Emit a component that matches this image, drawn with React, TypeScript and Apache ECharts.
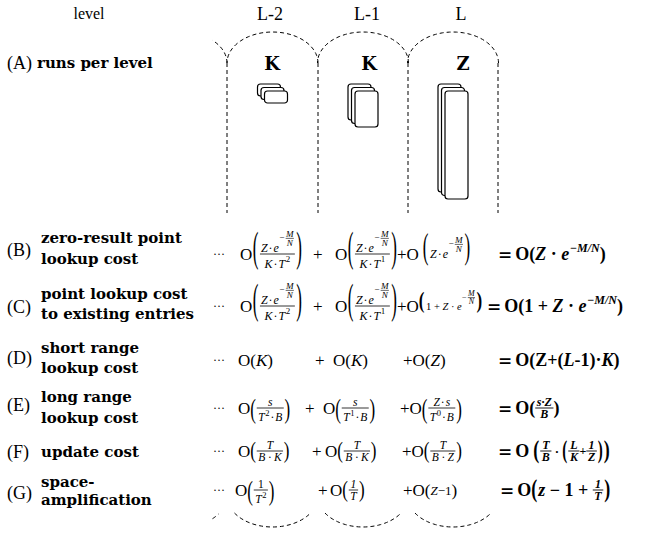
import React, { useEffect, useRef } from 'react';
import * as echarts from 'echarts';

// ---------------- data ----------------
const levelHeader = 'level';
const levelNames = ['L-2', 'L-1', 'L'];
const runsPerLevel = ['K', 'K', 'Z'];
const runsDrawn = [3, 3, 3];
const runLengthRatio = [1, 3, 9];
const levelExponents = ['2', '1', '0'];
const rowTags = ['(A)', '(B)', '(C)', '(D)', '(E)', '(F)', '(G)'];
const rowTitles = [
  ['runs per level'],
  ['zero-result point', 'lookup cost'],
  ['point lookup cost', 'to existing entries'],
  ['short range', 'lookup cost'],
  ['long range', 'lookup cost'],
  ['update cost'],
  ['space-', 'amplification'],
];

// ---------------- layout ----------------
const W = 647;
const H = 534;
const COLS = [227, 318, 408, 498];
const ARC_BASE_Y = 63;
const ARC_RY = 31;
const LINE_END_Y = 213;
const BOT_CY = 496;
const HEAD_X = [270, 367, 461];
const TAG_Y = [63, 250, 307, 358, 405, 452, 493];
const TITLE_Y = [[63], [238, 259], [294, 314], [348, 368], [397, 418], [452], [482, 500]];
const ROW_Y = [254, 306, 360, 408, 451, 490];
const X_DOTS = 213;
const X_T1 = [240, 240, 238, 238, 238, 235];
const X_PLUS = [313, 313, 315, 305, 312, 318];
const X_T2 = [335, 335, 333, 323, 325, 330];
const X_T3 = [397, 397, 403, 400, 402, 403];
const X_EQ = [498, 487, 498, 498, 498, 500];

// ---------------- tiny math layout ----------------
type Box = { w: number; a: number; d: number; draw: (x: number, y: number, out: any[]) => void };
type TO = { b?: boolean; i?: boolean; f?: string };
const SERIF = '"Liberation Serif", "DejaVu Serif", serif';
const DJ = '"DejaVu Serif", "Liberation Serif", serif';
const HALF = 0.42;
let mctx: CanvasRenderingContext2D | null = null;
function mw(s: string, size: number, o: TO) {
  if (!mctx) mctx = document.createElement('canvas').getContext('2d');
  mctx!.font = `${o.i ? 'italic ' : ''}${o.b ? 'bold ' : ''}${size}px ${o.f || SERIF}`;
  return mctx!.measureText(s).width;
}
function textEl(s: string, x: number, y: number, size: number, o: TO, align = 'left', scaleY = 1, lineHeight = 0) {
  const el: any = {
    type: 'text', x, y, silent: true,
    style: {
      text: s, fontSize: size, fontFamily: o.f || SERIF,
      fontWeight: o.b ? 'bold' : 'normal', fontStyle: o.i ? 'italic' : 'normal',
      fill: '#000', textAlign: align, textVerticalAlign: 'middle',
    },
  };
  if (lineHeight) el.style.lineHeight = lineHeight;
  if (scaleY !== 1) el.scaleY = scaleY;
  return el;
}
function T(s: string, size: number, o: TO = {}): Box {
  const w = mw(s, size, o);
  return { w, a: size * HALF, d: size * HALF, draw: (x, y, out) => { out.push(textEl(s, x, y, size, o)); } };
}
const RB: TO = { b: true };
const I: TO = { i: true };
const BI: TO = { b: true, i: true };
function Sp(w: number): Box { return { w, a: 0, d: 0, draw: () => {} }; }
function Row(...bs: Box[]): Box {
  return {
    w: bs.reduce((s, b) => s + b.w, 0),
    a: Math.max(...bs.map((b) => b.a)),
    d: Math.max(...bs.map((b) => b.d)),
    draw: (x, y, out) => { let cx = x; for (const b of bs) { b.draw(cx, y, out); cx += b.w; } },
  };
}
function Sup(base: Box, s: Box, raise: number, gap = 0.5): Box {
  return {
    w: base.w + gap + s.w,
    a: Math.max(base.a, raise + s.a),
    d: Math.max(base.d, s.d - raise),
    draw: (x, y, out) => { base.draw(x, y, out); s.draw(x + base.w + gap, y - raise, out); },
  };
}
function Frac(num: Box, den: Box, gap = 1.2, lw = 0.8, pad = 1): Box {
  const w = Math.max(num.w, den.w) + 2 * pad;
  return {
    w, a: gap + num.a + num.d, d: gap + den.a + den.d,
    draw: (x, y, out) => {
      out.push({ type: 'line', silent: true, shape: { x1: x, y1: y, x2: x + w, y2: y }, style: { stroke: '#000', lineWidth: lw } });
      num.draw(x + (w - num.w) / 2, y - gap - num.d, out);
      den.draw(x + (w - den.w) / 2, y + gap + den.a, out);
    },
  };
}
// simple stacked fraction drawn as one two-line text
function FracS(num: string, den: string, size: number, o: TO, gap = 1, lw = 0.8, pad = 1): Box {
  const w = Math.max(mw(num, size, o), mw(den, size, o)) + 2 * pad;
  const half = size * HALF;
  const lh = 2 * gap + 2 * half;
  return {
    w, a: gap + 2 * half, d: gap + 2 * half,
    draw: (x, y, out) => {
      out.push({ type: 'line', silent: true, shape: { x1: x, y1: y, x2: x + w, y2: y }, style: { stroke: '#000', lineWidth: lw } });
      out.push(textEl(`${num}\n${den}`, x + w / 2, y, size, o, 'center', 1, lh));
    },
  };
}
function Par(inner: Box, size: number, o: TO & { minH?: number; pad?: number } = {}): Box {
  const lw = mw('(', size, o);
  const rw = mw(')', size, o);
  const nat = size * 0.9;
  const h = Math.max(inner.a + inner.d, o.minH || 0);
  const k = Math.max(1, h / nat);
  const pad = o.pad ?? 0.8;
  const c = (inner.d - inner.a) / 2;
  const half = (nat * k) / 2;
  return {
    w: lw + rw + inner.w + 2 * pad,
    a: Math.max(inner.a, half - c),
    d: Math.max(inner.d, half + c),
    draw: (x, y, out) => {
      const yy = k > 1 ? y + c - 0.1 * size * (k - 1) : y;
      out.push(textEl('(', x, yy, size, o, 'left', k));
      inner.draw(x + lw + pad, y, out);
      out.push(textEl(')', x + lw + 2 * pad + inner.w, yy, size, o, 'left', k));
    },
  };
}

// ---------------- formula pieces ----------------
const MS = 17; // main size
const RS = 18; // result size
const FS = 12; // fraction size
const O = () => T('O', MS);
const PO = () => T('+O', MS);
function eNeg(sz: number): Box {
  const s2 = sz * 0.76;
  return Sup(T('e', sz, I), Row(T('−', s2), Sp(1.2), FracS('M', 'N', s2, I, 0.6, 0.6, 0.3)), sz * 0.8, 0.4);
}
const zE = (sz: number) => Row(T('Z', sz, I), Sp(1), T('·', sz), Sp(1), eNeg(sz));
function bcTerm(lv: number): Box {
  const den = Row(T('K', FS, I), Sp(1), T('·', FS), Sp(1), Sup(T('T', FS, I), T(levelExponents[lv], 9), 5));
  return Row(O(), Sp(0.5), Par(Frac(zE(FS), den, 1, 0.8, 1), MS, { pad: 1.5 }));
}
const bEq = () => T('=', 17, { b: true, f: DJ });
const bO = () => T('O', RS, RB);
const bL = () => T('(', RS, RB);
const bR = () => T(')', RS, RB);
const RF = (n: string, d: string, o: TO = BI) => FracS(n, d, 12, o, 1.2, 0.9, 1.6);

const ES = 11.5;
function eTerm(lv: number): Box {
  const num = lv === 2 ? Row(T(runsPerLevel[lv], ES, I), Sp(1), T('·', ES), Sp(1), T('s', ES, I)) : T('s', ES, I);
  const den = Row(Sup(T('T', ES, I), T(levelExponents[lv], 8.5), 4.5), Sp(1), T('·', ES), Sp(1), T('B', ES, I));
  return Par(Frac(num, den, 1, 0.8, 1.5), MS);
}
function fTerm(lv: number): Box {
  return Par(FracS('T', `B · ${runsPerLevel[lv]}`, ES, I, 1, 0.8, 1.5), MS);
}
function gTerm(lv: number): Box {
  if (lv === 0) return Par(Frac(T('1', ES), Sup(T('T', ES, I), T(levelExponents[0], 8.5), 4.5), 1, 0.8, 1.5), MS);
  if (lv === 1) return Par(FracS('1', 'T', ES, I, 1, 0.8, 1.5), MS);
  return Row(T('(', MS), T(runsPerLevel[2], 13, I), T('−1', 13), T(')', MS));
}

type RowF = { t: Box[]; res: Box };
function buildRows(): RowF[] {
  const rows: RowF[] = [];
  // B
  rows.push({
    t: [bcTerm(0), bcTerm(1), Row(PO(), Sp(4), Par(zE(FS), MS, { minH: 32, pad: 1.5 }))],
    res: Row(bO(), bL(), T('Z', RS, BI), T(' · ', RS, RB), Sup(T('e', RS, BI), T('−M/N', 12, BI), 6), bR()),
  });
  // C
  rows.push({
    t: [bcTerm(0), bcTerm(1), Row(PO(), Par(Row(T('1 + ', 10.5), T('Z', 10.5, I), T(' · ', 10.5), eNeg(10.5)), MS, { b: true, pad: 1.5 }))],
    res: Row(bO(), bL(), T('1', RS, RB), T(' + ', RS, RB), T('Z', RS, BI), T(' · ', RS, RB), Sup(T('e', RS, BI), T('−M/N', 12, BI), 6), bR()),
  });
  // D
  const dT = (lv: number) => Row(T('(', MS), T(runsPerLevel[lv], MS, I), T(')', MS));
  rows.push({
    t: [Row(O(), dT(0)), Row(O(), dT(1)), Row(PO(), dT(2))],
    res: Row(bO(), bL(), T('Z', RS, RB), T('+', RS, RB), bL(), T('L', RS, BI), T('-1', RS, RB), bR(), T('·', RS, RB), T('K', RS, BI), bR()),
  });
  // E
  rows.push({
    t: [Row(O(), eTerm(0)), Row(O(), eTerm(1)), Row(PO(), eTerm(2))],
    res: Row(bO(), bL(), RF('s·Z', 'B'), bR()),
  });
  // F
  rows.push({
    t: [Row(O(), fTerm(0)), Row(O(), fTerm(1)), Row(PO(), fTerm(2))],
    res: Row(bO(), Sp(4), Par(Row(
      RF('T', 'B'),
      T(' · ', 13, RB),
      Par(Row(RF('L', 'K'), T('+', 12, RB), RF('1', 'Z')), 15, { b: true, pad: 1 }),
    ), RS, { b: true, pad: 1 })),
  });
  // G
  rows.push({
    t: [Row(O(), gTerm(0)), Row(O(), gTerm(1)), Row(PO(), gTerm(2))],
    res: Row(bO(), Par(Row(T('z', RS, BI), T(' − ', RS, RB), T('1', RS, RB), T(' + ', RS, RB), RF('1', 'T')), RS, { b: true, pad: 1 })),
  });
  return rows;
}

function dashed(points: number[][]) {
  return { type: 'polyline', silent: true, shape: { points }, style: { stroke: '#000', lineWidth: 1, lineDash: [4, 3], fill: null } };
}
function ellipsePts(cx: number, cy: number, rx: number, ry: number, t0: number, t1: number, n = 40) {
  const pts: number[][] = [];
  for (let k = 0; k <= n; k++) {
    const t = t0 + ((t1 - t0) * k) / n;
    pts.push([cx + rx * Math.cos(t), cy - ry * Math.sin(t)]);
  }
  return pts;
}

function buildElements(): any[] {
  const out: any[] = [];
  // header
  out.push(textEl(levelHeader, 89, 13, 16, {}, 'center'));
  levelNames.forEach((n, i) => out.push(textEl(n, HEAD_X[i], 14, 18, {}, 'center')));

  // dashed columns
  const rx = (COLS[1] - COLS[0]) / 2;
  for (let i = 0; i < 3; i++) {
    const cx = (COLS[i] + COLS[i + 1]) / 2;
    out.push(dashed(ellipsePts(cx, ARC_BASE_Y, rx, ARC_RY, 0, Math.PI)));
    const a = Math.acos(38 / rx);
    out.push(dashed(ellipsePts(cx, BOT_CY, rx, ARC_RY, Math.PI + a, 2 * Math.PI - a)));
  }
  const pcx = COLS[0] - rx;
  out.push(dashed(ellipsePts(pcx, ARC_BASE_Y, rx, ARC_RY, 0, Math.acos(31 / rx), 12)));
  out.push(dashed(ellipsePts(pcx, BOT_CY, rx, ARC_RY, 2 * Math.PI - Math.acos(31 / rx), 2 * Math.PI - Math.acos(37 / rx), 8)));
  COLS.forEach((x) => out.push({ type: 'line', silent: true, shape: { x1: x, y1: ARC_BASE_Y, x2: x, y2: LINE_END_Y }, style: { stroke: '#000', lineWidth: 1, lineDash: [4, 3] } }));

  // row labels
  rowTags.forEach((tag, r) => {
    out.push(textEl(tag, 7, TAG_Y[r], 18, {}));
    rowTitles[r].forEach((line, j) => out.push(textEl(line, r === 0 ? 37 : 41, TITLE_Y[r][j], 15, { b: true, f: DJ })));
  });

  // row A: run stacks
  for (let i = 0; i < 3; i++) {
    const cx = (COLS[i] + COLS[i + 1]) / 2;
    out.push(textEl(runsPerLevel[i], HEAD_X[i] + 2, 63, 18, { b: true, f: DJ }, 'center'));
    const n = runsDrawn[i];
    const off = 3.5;
    const rw = 23;
    const rh = 12 * runLengthRatio[i];
    const x0 = cx - (rw + off * (n - 1)) / 2;
    for (let k = 0; k < n; k++) {
      out.push({ type: 'rect', silent: true, shape: { x: x0 + off * k, y: 84 + off * k, width: rw, height: rh, r: 3 }, style: { fill: '#fff', stroke: '#000', lineWidth: 1.2 } });
    }
  }

  // formula rows
  const rows = buildRows();
  rows.forEach((rf, r) => {
    const y = ROW_Y[r];
    T('···', 12).draw(X_DOTS, y, out);
    rf.t[0].draw(X_T1[r], y, out);
    T('+', MS).draw(X_PLUS[r], y, out);
    rf.t[1].draw(X_T2[r], y, out);
    rf.t[2].draw(X_T3[r], y, out);
    const eq = bEq();
    eq.draw(X_EQ[r], y, out);
    rf.res.draw(X_EQ[r] + eq.w + 3, y, out);
  });
  return out;
}

export default function App() {
  const ref = useRef<HTMLDivElement>(null);
  useEffect(() => {
    const chart = echarts.init(ref.current!, null, { renderer: 'svg', width: W, height: H });
    chart.setOption({ animation: false, backgroundColor: '#fff', graphic: { elements: buildElements() } });
    return () => chart.dispose();
  }, []);
  return <div ref={ref} style={{ position: 'absolute', left: 0, top: 0, width: W, height: H, background: '#fff' }} />;
}
